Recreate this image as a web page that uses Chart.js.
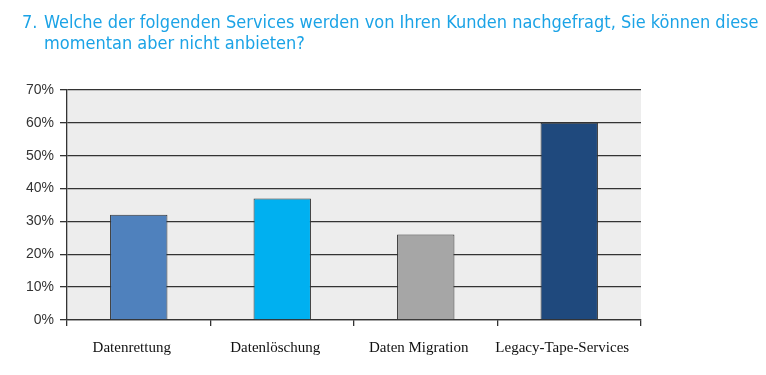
<!DOCTYPE html>
<html lang="de">
<head>
<meta charset="UTF-8">
<script src="https://cdn.jsdelivr.net/npm/chart.js"></script>
<title>Services</title>
<style>
  body { margin: 0; background: #fff; }
  #wrap { position: relative; width: 766px; height: 375px; }
  .titel { position: absolute; color: #1BA3E6; font-family: "Liberation Sans Narrow", "DejaVu Sans Condensed", sans-serif; font-size: 18px; line-height: 21px; white-space: nowrap; }
  #nr { left: 22px; top: 11px; }
  #frage { left: 44px; top: 11px; }
  canvas { position: absolute; left: 0; top: 0; }
</style>
</head>
<body>
<div id="wrap">
  <canvas id="myChart" width="766" height="375"></canvas>
  <div class="titel" id="nr">7.</div>
  <div class="titel" id="frage">Welche der folgenden Services werden von Ihren Kunden nachgefragt, Sie können diese<br>momentan aber nicht anbieten?</div>
</div>
<script>
  // Daten
  const kategorien = ['Datenrettung', 'Datenlöschung', 'Daten Migration', 'Legacy-Tape-Services'];
  const werte = [32, 37, 26, 60];
  const farben = ['#4F81BD', '#00B0F0', '#A6A6A6', '#1F497D'];
  const yTicks = [0, 10, 20, 30, 40, 50, 60, 70];

  // grauer Hintergrund der Zeichenfläche
  const hintergrund = {
    id: 'hintergrund',
    beforeDraw(chart) {
      const a = chart.chartArea;
      const ctx = chart.ctx;
      ctx.save();
      ctx.fillStyle = '#EDEDED';
      ctx.fillRect(a.left, a.top, a.right - a.left, a.bottom - a.top);
      ctx.restore();
    }
  };

  new Chart(document.getElementById('myChart'), {
    type: 'bar',
    data: {
      labels: kategorien,
      datasets: [{
        data: werte,
        backgroundColor: farben,
        borderColor: '#333333',
        borderWidth: 1,
        barPercentage: 0.4,
        categoryPercentage: 1
      }]
    },
    options: {
      responsive: false,
      animation: false,
      layout: { padding: { top: 90, right: 125, left: 0, bottom: 0 } },
      plugins: { legend: { display: false }, tooltip: { enabled: false } },
      scales: {
        y: {
          min: 0, max: 70,
          afterFit(s) { s.width = 67; },
          afterBuildTicks(s) { s.ticks = yTicks.map(v => ({ value: v })); },
          grid: { color: '#333333', lineWidth: 1.3, tickLength: 7 },
          border: { color: '#333333', width: 1.3 },
          ticks: {
            padding: 6,
            color: '#333333',
            font: { family: 'Liberation Sans', size: 14 },
            callback: v => v + '%'
          }
        },
        x: {
          afterFit(s) { s.height = 55; },
          grid: { drawOnChartArea: false, offset: true, color: '#333333', lineWidth: 1.3, tickLength: 6 },
          border: { color: '#333333', width: 1.3 },
          ticks: {
            padding: 13,
            labelOffset: -7,
            color: '#111111',
            font: { family: 'Liberation Serif', size: 15 }
          }
        }
      }
    },
    plugins: [hintergrund]
  });
</script>
</body>
</html>
